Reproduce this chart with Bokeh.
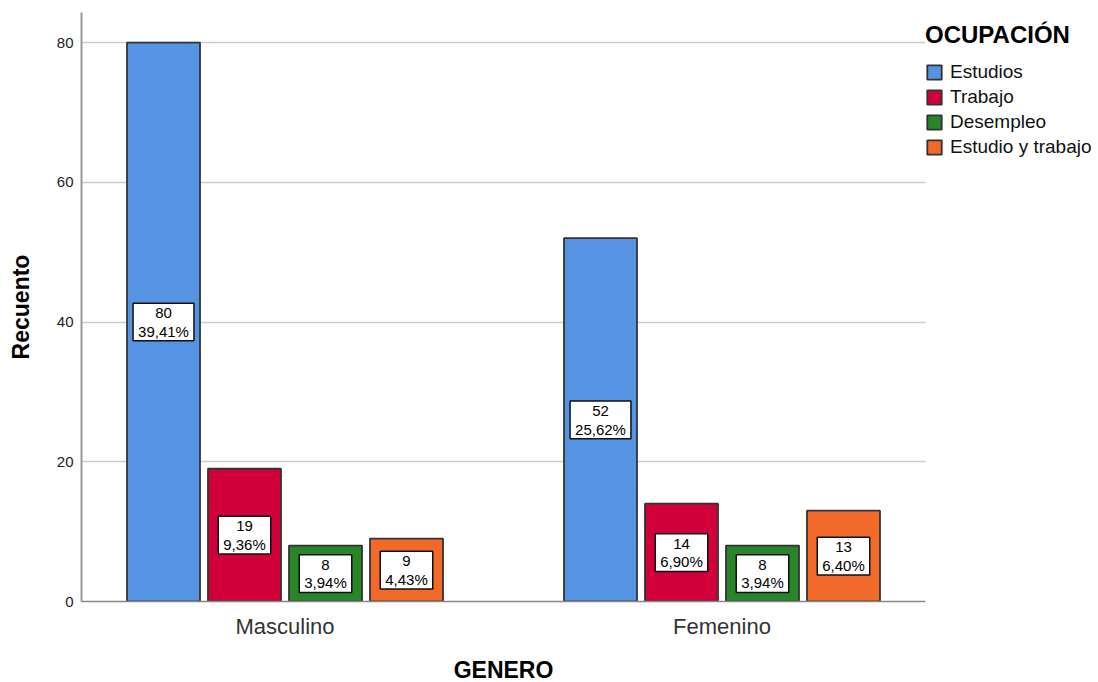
from bokeh.plotting import figure
from bokeh.models import ColumnDataSource, FixedTicker, Legend, LegendItem, Range1d
from bokeh.core.properties import value
from bokeh.embed import file_html
from bokeh.resources import INLINE

# ---- data ----
generos = ["Masculino", "Femenino"]
ocupaciones = ["Estudios", "Trabajo", "Desempleo", "Estudio y trabajo"]
estudios = [80, 52]
trabajo = [19, 14]
desempleo = [8, 8]
estudio_y_trabajo = [9, 13]
pct_estudios = ["39,41%", "25,62%"]
pct_trabajo = ["9,36%", "6,90%"]
pct_desempleo = ["3,94%", "3,94%"]
pct_estudio_y_trabajo = ["4,43%", "6,40%"]
y_ticks = [0, 20, 40, 60, 80]

series = [estudios, trabajo, desempleo, estudio_y_trabajo]
pcts = [pct_estudios, pct_trabajo, pct_desempleo, pct_estudio_y_trabajo]
colors = ["#5594e2", "#d2003a", "#2a842a", "#f26a2a"]

FONT = "Liberation Sans"
step = 81 / 437
bar_w = 73 / 437

p = figure(frame_width=844, frame_height=589, output_backend="svg", toolbar_location=None,
           x_range=Range1d(-0.4657, 1.4657), y_range=Range1d(0, 84.3),
           min_border_left=81, min_border_right=170, min_border_top=12,
           min_border_bottom=80)
p.outline_line_color = None
p.background_fill_color = "white"

items = []
for i, (vals, pc, col, name) in enumerate(zip(series, pcts, colors, ocupaciones)):
    xs = [g + (i - 1.5) * step for g in range(len(generos))]
    src = ColumnDataSource(dict(x=xs, top=vals, mid=[v / 2 for v in vals],
                                lab=[f"{v}\n{q}" for v, q in zip(vals, pc)]))
    r = p.vbar(x="x", top="top", bottom=0, width=bar_w, source=src,
               fill_color=col, line_color="#333333", line_width=1.8)
    items.append(LegendItem(label=name, renderers=[r]))
    p.text(x="x", y="mid", text="lab", source=src, text_align="center",
           text_baseline="middle", text_font=value(FONT), text_font_size="15px",
           text_color="black", text_line_height=1.1,
           background_fill_color="white", border_line_color="#111111",
           border_line_width=1.5, padding=(5, 5, 1, 1))

# axes
p.xgrid.grid_line_color = None
p.ygrid.grid_line_color = "#cccccc"
p.ygrid.grid_line_width = 1.5
p.ygrid.ticker = FixedTicker(ticks=y_ticks)

p.yaxis.ticker = FixedTicker(ticks=y_ticks)
p.yaxis.axis_label = "Recuento"
p.yaxis.axis_label_text_font = FONT
p.yaxis.axis_label_text_font_size = "23px"
p.yaxis.axis_label_text_font_style = "bold"
p.yaxis.axis_label_text_color = "black"
p.yaxis.axis_label_standoff = 20
p.yaxis.major_label_text_font = FONT
p.yaxis.major_label_text_font_size = "15px"
p.yaxis.major_label_text_color = "#222222"
p.yaxis.major_label_standoff = 8
p.yaxis.major_tick_out = 0
p.yaxis.major_tick_in = 0
p.yaxis.minor_tick_out = 0
p.yaxis.minor_tick_in = 0
p.yaxis.axis_line_color = "#999999"
p.yaxis.axis_line_width = 2

p.xaxis.ticker = FixedTicker(ticks=list(range(len(generos))))
p.xaxis.major_label_overrides = {i: g for i, g in enumerate(generos)}
p.xaxis.axis_label = "GENERO"
p.xaxis.axis_label_text_font = FONT
p.xaxis.axis_label_text_font_size = "23px"
p.xaxis.axis_label_text_font_style = "bold"
p.xaxis.axis_label_text_color = "black"
p.xaxis.axis_label_standoff = 15
p.xaxis.major_label_text_font = FONT
p.xaxis.major_label_text_font_size = "22px"
p.xaxis.major_label_text_color = "#333333"
p.xaxis.major_label_standoff = 12
p.xaxis.major_tick_out = 0
p.xaxis.major_tick_in = 0
p.xaxis.minor_tick_out = 0
p.xaxis.minor_tick_in = 0
p.xaxis.axis_line_color = "#888888"
p.xaxis.axis_line_width = 1.5

legend = Legend(items=items, location=(0, 443), padding=3, margin=0,
                spacing=3, glyph_width=18, glyph_height=18, label_height=18,
                label_standoff=7, background_fill_alpha=0, border_line_color=None,
                label_text_font=FONT, label_text_font_size="19px",
                label_text_color="#111111",
                title="OCUPACIÓN", title_text_font=FONT, title_text_font_size="24px",
                title_text_font_style="bold", title_text_color="black",
                title_standoff=12)
p.add_layout(legend, "right")

open("out.html", "w").write(file_html(p, INLINE))
